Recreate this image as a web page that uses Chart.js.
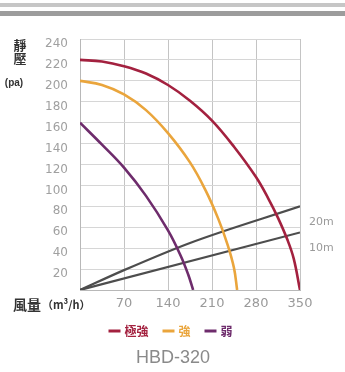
<!DOCTYPE html>
<html>
<head>
<meta charset="utf-8">
<script src="https://cdn.jsdelivr.net/npm/chart.js@4/dist/chart.umd.min.js"></script>
<style>
  html, body { margin: 0; padding: 0; background: #fff; }
  #wrap { position: relative; width: 345px; height: 372px; overflow: hidden; }
  #bar1 { position: absolute; left: 0; top: 3px; width: 345px; height: 4px; background: #c6c6c6; }
  #bar2 { position: absolute; left: 0; top: 11px; width: 345px; height: 5px; background: #9c9c9c; }
  canvas { position: absolute; left: 0; top: 0; }
</style>
</head>
<body>
<div id="wrap">
  <canvas id="c" width="345" height="372"></canvas>
  <div id="bar1"></div>
  <div id="bar2"></div>
</div>
<script>
// ---- data ----
const flowTicks = [0, 70, 140, 210, 280, 350];
const pressureTicks = [0, 20, 40, 60, 80, 100, 120, 140, 160, 180, 200, 220, 240];

const seriesNames = ['極強', '強', '弱'];
const seriesColors = ['#a3213f', '#eaa53c', '#6e2c6c'];

const strongestFlow     = [0, 35, 70, 105, 140, 175, 210, 245, 280, 300, 315, 330, 340, 350];
const strongestPressure = [220, 218.5, 214, 207, 196, 181, 162, 137, 108, 87, 69, 48, 30, 0];

const strongFlow     = [0, 35, 70, 105, 140, 175, 200, 220, 235, 245, 250];
const strongPressure = [200, 196, 187, 172, 150, 122, 95, 68, 43, 21, 0];

const weakFlow     = [0, 35, 70, 105, 140, 160, 172, 180];
const weakPressure = [160, 139, 117, 90, 57, 33, 15, 0];

const duct20Flow     = [0, 70, 175, 350];
const duct20Pressure = [0, 19, 45, 80];
const duct10Flow     = [0, 350];
const duct10Pressure = [0, 55];

const ductNames = ['20m', '10m'];
const xTitleMain = '風量';
const xTitleUnit = '（m³/h）';
const yTitleChars = ['靜', '壓'];
const yTitleUnit = '(pa)';
const chartTitle = 'HBD-320';

function pts(xs, ys) { return xs.map((x, i) => ({ x: x, y: ys[i] })); }

const curveFlows = [strongestFlow, strongFlow, weakFlow];
const curvePressures = [strongestPressure, strongPressure, weakPressure];

const datasets = seriesNames.map((n, i) => ({
  label: n,
  data: pts(curveFlows[i], curvePressures[i]),
  borderColor: seriesColors[i],
  borderWidth: 2.6,
  pointRadius: 0,
  fill: false,
  tension: 0.4
}));
datasets.push({
  label: ductNames[0], data: pts(duct20Flow, duct20Pressure),
  borderColor: '#4d4d4d', borderWidth: 2.2, pointRadius: 0, fill: false, cubicInterpolationMode: 'monotone'
});
datasets.push({
  label: ductNames[1], data: pts(duct10Flow, duct10Pressure),
  borderColor: '#4d4d4d', borderWidth: 2.2, pointRadius: 0, fill: false
});

const cjk = '"Noto Sans CJK TC", "Noto Sans CJK SC", sans-serif';

const decor = {
  id: 'decor',
  afterDraw(chart) {
    const ctx = chart.ctx;
    const xs = chart.scales.x, ys = chart.scales.y;
    ctx.save();
    // duct labels at the end of the duct lines
    ctx.fillStyle = '#9a9a9a';
    ctx.font = '11px "DejaVu Sans", sans-serif';
    ctx.textAlign = 'left';
    ctx.textBaseline = 'middle';
    ctx.fillText(ductNames[0], xs.getPixelForValue(duct20Flow[duct20Flow.length - 1]) + 9,
                 ys.getPixelForValue(duct20Pressure[duct20Pressure.length - 1]) + 16);
    ctx.fillText(ductNames[1], xs.getPixelForValue(duct10Flow[duct10Flow.length - 1]) + 9,
                 ys.getPixelForValue(duct10Pressure[duct10Pressure.length - 1]) + 16);

    // y-axis title (stacked)
    ctx.fillStyle = '#333';
    ctx.textAlign = 'center';
    ctx.font = 'bold 13px ' + cjk;
    ctx.fillText(yTitleChars[0], 20, 45);
    ctx.fillText(yTitleChars[1], 20, 58);
    ctx.font = 'bold 10px "Liberation Sans", Arial, sans-serif';
    ctx.fillText(yTitleUnit, 14, 83);

    // x-axis title
    ctx.textAlign = 'left';
    ctx.font = 'bold 14px ' + cjk;
    ctx.fillText(xTitleMain, 13, 305);
    ctx.font = 'bold 11px ' + cjk;
    ctx.fillText(xTitleUnit, 42, 305);

    // legend
    ctx.font = 'bold 12px ' + cjk;
    const lineLen = 12, gap = 4, itemGap = 14;
    const widths = seriesNames.map(n => ctx.measureText(n).width);
    let total = 0;
    widths.forEach((w, i) => { total += lineLen + gap + w + (i < widths.length - 1 ? itemGap : 0); });
    let x = 170.5 - total / 2;
    const ly = 331;
    seriesNames.forEach((n, i) => {
      ctx.strokeStyle = seriesColors[i];
      ctx.lineWidth = 3;
      ctx.beginPath();
      ctx.moveTo(x, ly);
      ctx.lineTo(x + lineLen, ly);
      ctx.stroke();
      ctx.fillStyle = seriesColors[i];
      ctx.fillText(n, x + lineLen + gap, ly);
      x += lineLen + gap + widths[i] + itemGap;
    });

    // title
    ctx.textAlign = 'center';
    ctx.fillStyle = '#8a8a8a';
    ctx.font = '18px "Liberation Sans", Arial, sans-serif';
    ctx.fillText(chartTitle, 173, 358);
    ctx.restore();
  }
};

new Chart(document.getElementById('c'), {
  type: 'line',
  data: { datasets: datasets },
  options: {
    responsive: false,
    animation: false,
    layout: { autoPadding: false, padding: { top: 39, right: 45, bottom: 0, left: 0 } },
    plugins: { legend: { display: false }, title: { display: false }, tooltip: { enabled: false } },
    scales: {
      x: {
        type: 'linear', min: 0, max: 350,
        afterBuildTicks: s => { s.ticks = flowTicks.map(v => ({ value: v })); },
        afterFit: s => { s.height = 82; },
        grid: { color: '#c4c4c4', drawTicks: false, lineWidth: 1 },
        border: { color: '#b8b8b8' },
        ticks: {
          padding: 6, color: '#9a9a9a', font: { family: '"DejaVu Sans", sans-serif', size: 13 },
          maxRotation: 0, autoSkip: false,
          callback: v => (v === 0 ? '' : String(v))
        }
      },
      y: {
        min: 0, max: 240,
        afterBuildTicks: s => { s.ticks = pressureTicks.map(v => ({ value: v })); },
        afterFit: s => { s.width = 80; },
        grid: { color: '#d6d6d6', drawTicks: false, lineWidth: 1 },
        border: { color: '#b8b8b8' },
        ticks: {
          padding: 12, labelOffset: 5, color: '#a0a0a0', font: { family: '"DejaVu Sans", sans-serif', size: 12 },
          autoSkip: false,
          callback: v => (v === 0 ? '' : String(v))
        }
      }
    }
  },
  plugins: [decor]
});
</script>
</body>
</html>
